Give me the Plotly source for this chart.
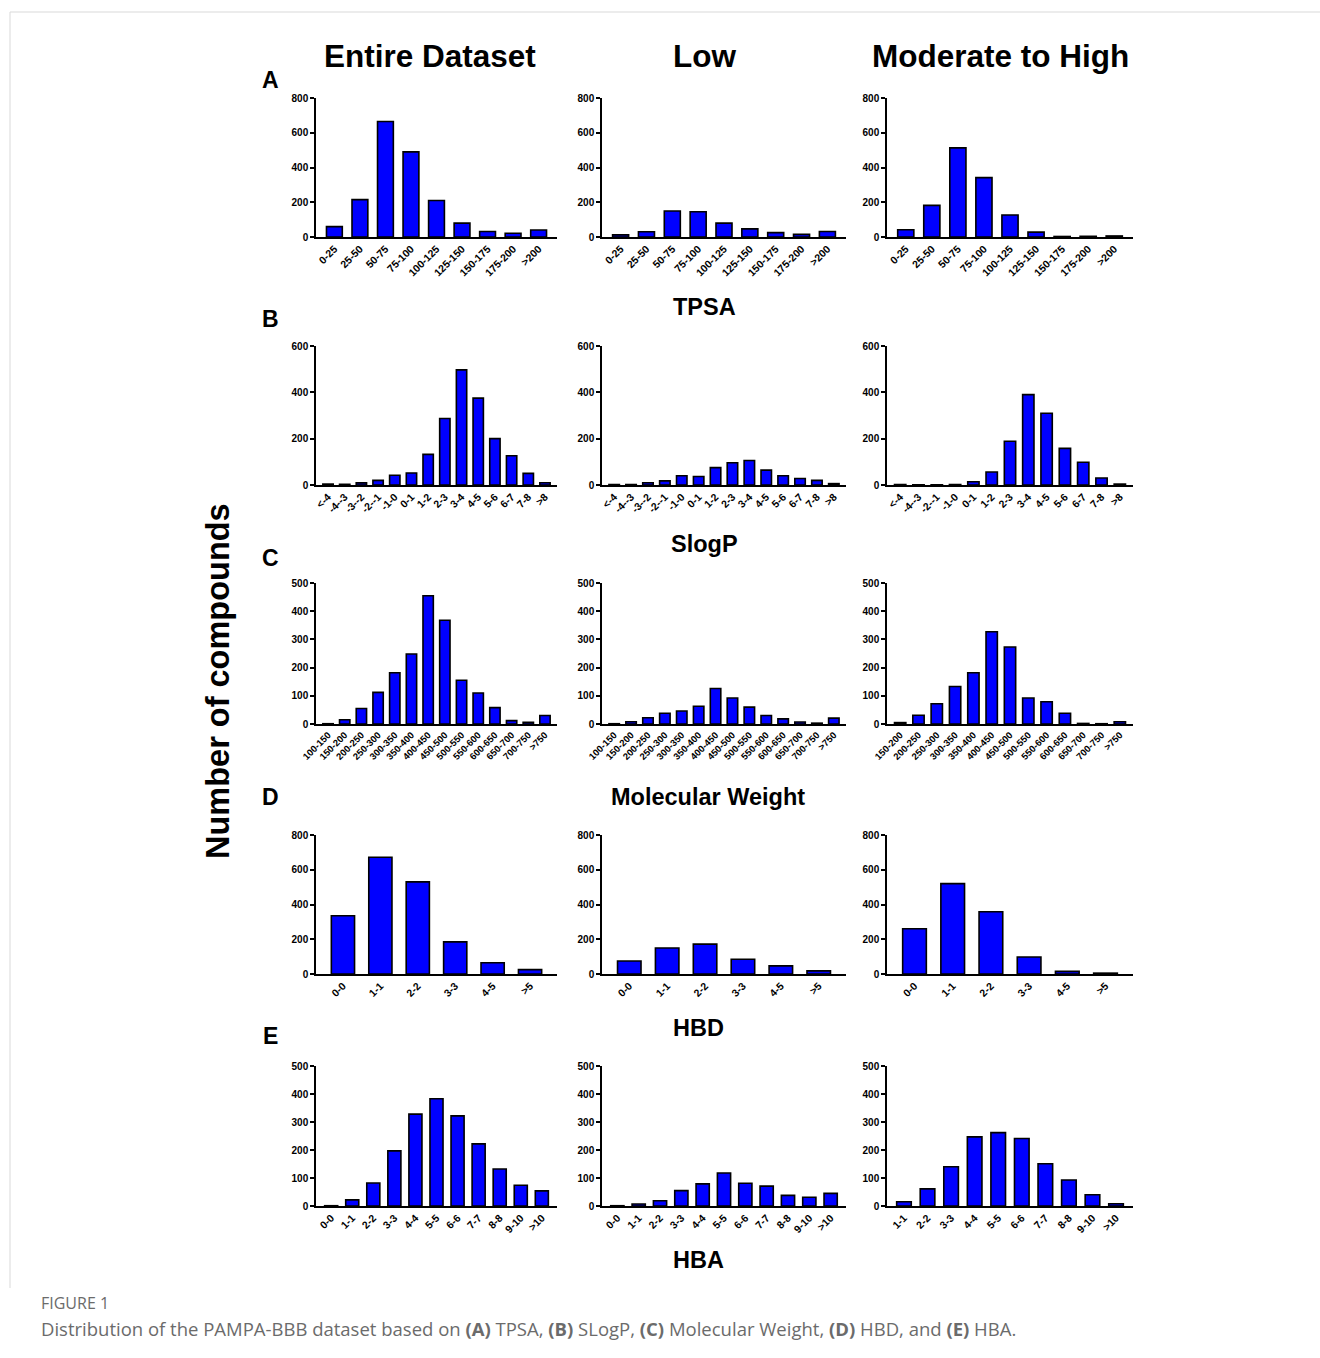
import plotly.graph_objects as go

W, H = 1320, 1358

# ---------------- data ----------------
tpsa_cats = ["0-25", "25-50", "50-75", "75-100", "100-125", "125-150", "150-175", "175-200", ">200"]
tpsa_all = [60, 215, 665, 490, 210, 80, 32, 22, 40]
tpsa_low = [12, 30, 150, 145, 80, 47, 25, 15, 32]
tpsa_high = [42, 182, 513, 342, 127, 28, 3, 4, 6]

slogp_cats = ["<-4", "-4--3", "-3--2", "-2--1", "-1-0", "0-1", "1-2", "2-3", "3-4", "4-5", "5-6", "6-7", "7-8", ">8"]
slogp_cats_high = ["<-4", "-4--3", "-2--1", "-1-0", "0-1", "1-2", "2-3", "3-4", "4-5", "5-6", "6-7", "7-8", ">8"]
slogp_all = [4, 3, 9, 20, 42, 52, 132, 287, 497, 375, 200, 126, 50, 10]
slogp_low = [2, 2, 10, 18, 40, 37, 75, 96, 106, 64, 40, 28, 20, 6]
slogp_high = [2, 1, 1, 2, 14, 56, 189, 390, 310, 158, 98, 30, 4]

mw_cats = ["100-150", "150-200", "200-250", "250-300", "300-350", "350-400", "400-450", "450-500",
           "500-550", "550-600", "600-650", "650-700", "700-750", ">750"]
mw_cats_high = ["150-200", "200-250", "250-300", "300-350", "350-400", "400-450", "450-500",
                "500-550", "550-600", "600-650", "650-700", "700-750", ">750"]
mw_all = [1, 15, 55, 112, 182, 248, 455, 368, 155, 110, 58, 12, 6, 30]
mw_low = [1, 8, 22, 38, 46, 63, 126, 92, 60, 30, 18, 7, 3, 21]
mw_high = [5, 31, 72, 133, 182, 327, 273, 92, 79, 38, 2, 1, 8]

hbd_cats = ["0-0", "1-1", "2-2", "3-3", "4-5", ">5"]
hbd_all = [335, 672, 530, 185, 65, 25]
hbd_low = [75, 150, 172, 85, 47, 18]
hbd_high = [260, 520, 358, 98, 15, 5]

hba_cats = ["0-0", "1-1", "2-2", "3-3", "4-4", "5-5", "6-6", "7-7", "8-8", "9-10", ">10"]
hba_cats_high = ["1-1", "2-2", "3-3", "4-4", "5-5", "6-6", "7-7", "8-8", "9-10", ">10"]
hba_all = [1, 22, 82, 197, 328, 383, 322, 222, 132, 74, 54]
hba_low = [1, 7, 19, 55, 79, 118, 81, 71, 38, 31, 45]
hba_high = [15, 61, 140, 247, 262, 241, 151, 93, 40, 8]

col_titles = ["Entire Dataset", "Low", "Moderate to High"]
row_titles = ["TPSA", "SlogP", "Molecular Weight", "HBD", "HBA"]
panel_letters = ["A", "B", "C", "D", "E"]

rows = [
    dict(cats=[tpsa_cats, tpsa_cats, tpsa_cats], vals=[tpsa_all, tpsa_low, tpsa_high],
         ymax=800, dtick=200, top=98, bot=237, tfs=10.5),
    dict(cats=[slogp_cats, slogp_cats, slogp_cats_high], vals=[slogp_all, slogp_low, slogp_high],
         ymax=600, dtick=200, top=346, bot=485, tfs=10.5),
    dict(cats=[mw_cats, mw_cats, mw_cats_high], vals=[mw_all, mw_low, mw_high],
         ymax=500, dtick=100, top=583, bot=724, tfs=9.5),
    dict(cats=[hbd_cats, hbd_cats, hbd_cats], vals=[hbd_all, hbd_low, hbd_high],
         ymax=800, dtick=200, top=835, bot=974, tfs=10.5),
    dict(cats=[hba_cats, hba_cats, hba_cats_high], vals=[hba_all, hba_low, hba_high],
         ymax=500, dtick=100, top=1066, bot=1206, tfs=10.5),
]

cols_px = [(316, 557), (602, 846), (887, 1133)]

FONT = "Arial, Liberation Sans, sans-serif"
BLUE = "rgb(0,0,255)"

fig = go.Figure()
layout = {}
k = 0
for r, row in enumerate(rows):
    for c in range(3):
        k += 1
        xa = "x" if k == 1 else f"x{k}"
        ya = "y" if k == 1 else f"y{k}"
        cats = row["cats"][c]
        vals = row["vals"][c]
        n = len(cats)
        fig.add_trace(go.Bar(
            x=cats, y=vals, xaxis=xa, yaxis=ya,
            marker=dict(color=BLUE, line=dict(color="black", width=1.6)),
            width=0.62, showlegend=False,
        ))
        x0, x1 = cols_px[c]
        xkey = "xaxis" if k == 1 else f"xaxis{k}"
        ykey = "yaxis" if k == 1 else f"yaxis{k}"
        layout[xkey] = dict(
            domain=[x0 / W, x1 / W], anchor=ya, automargin=False,
            type="category", range=[-0.72, n - 1 + 0.72],
            showline=True, linecolor="black", linewidth=1.5,
            ticks="", showgrid=False, zeroline=False,
            tickangle=-45, tickfont=dict(family=FONT, size=row["tfs"], color="black", weight="bold"),
            fixedrange=True,
        )
        layout[ykey] = dict(
            domain=[1 - row["bot"] / H, 1 - row["top"] / H], anchor=xa, automargin=False,
            range=[0, row["ymax"]], dtick=row["dtick"], tick0=0,
            showline=True, linecolor="black", linewidth=1.5,
            ticks="outside", ticklen=4, tickwidth=1.5, tickcolor="black",
            showgrid=False, zeroline=False,
            tickfont=dict(family=FONT, size=10, color="black", weight="bold"),
            fixedrange=True,
        )

annotations = []
col_title_x = [430, 704, 1000]
for t, x in zip(col_titles, col_title_x):
    annotations.append(dict(text=t, x=x / W, y=1 - 56 / H, xref="paper", yref="paper",
                            xanchor="center", yanchor="middle", showarrow=False,
                            font=dict(family=FONT, size=31.5, color="black", weight="bold")))
row_title_pos = [(704, 307), (704, 544), (708, 797), (698, 1028), (698, 1260)]
for t, (x, y) in zip(row_titles, row_title_pos):
    annotations.append(dict(text=t, x=x / W, y=1 - y / H, xref="paper", yref="paper",
                            xanchor="center", yanchor="middle", showarrow=False,
                            font=dict(family=FONT, size=23.5, color="black", weight="bold")))
letter_y = [80, 319, 558, 797, 1036]
for t, y in zip(panel_letters, letter_y):
    annotations.append(dict(text=t, x=270 / W, y=1 - y / H, xref="paper", yref="paper",
                            xanchor="center", yanchor="middle", showarrow=False,
                            font=dict(family=FONT, size=23, color="black", weight="bold")))
annotations.append(dict(text="Number of compounds", x=218 / W, y=1 - 681 / H, xref="paper", yref="paper",
                        xanchor="center", yanchor="middle", showarrow=False, textangle=-90,
                        font=dict(family=FONT, size=32.5, color="black", weight="bold")))
annotations.append(dict(text="FIGURE 1", x=39 / W, y=1 - 1303 / H, xref="paper", yref="paper",
                        xanchor="left", yanchor="middle", showarrow=False,
                        font=dict(family="Open Sans, sans-serif", size=16, color="#6b6b6b")))
caption = ("Distribution of the PAMPA-BBB dataset based on <b>(A)</b> TPSA, <b>(B)</b> SLogP, "
           "<b>(C)</b> Molecular Weight, <b>(D)</b> HBD, and <b>(E)</b> HBA.")
annotations.append(dict(text=caption, x=39 / W, y=1 - 1328 / H, xref="paper", yref="paper",
                        xanchor="left", yanchor="middle", showarrow=False,
                        font=dict(family="Open Sans, sans-serif", size=18.5, color="#6b6b6b")))

shapes = [
    dict(type="line", xref="paper", yref="paper", x0=10 / W, x1=1.0, y0=1 - 12 / H, y1=1 - 12 / H,
         line=dict(color="#d9d9d9", width=1)),
    dict(type="line", xref="paper", yref="paper", x0=10 / W, x1=10 / W, y0=1 - 12 / H, y1=1 - 1288 / H,
         line=dict(color="#d9d9d9", width=1)),
]

fig.update_layout(
    width=W, height=H,
    margin=dict(l=0, r=0, t=0, b=0, autoexpand=False),
    paper_bgcolor="white", plot_bgcolor="white",
    bargap=0.38,
    annotations=annotations, shapes=shapes,
    **layout,
)

fig.write_html("out.html", config={"responsive": False, "displayModeBar": False},
               post_script="document.body.style.margin='0';document.body.style.overflow='hidden';")
